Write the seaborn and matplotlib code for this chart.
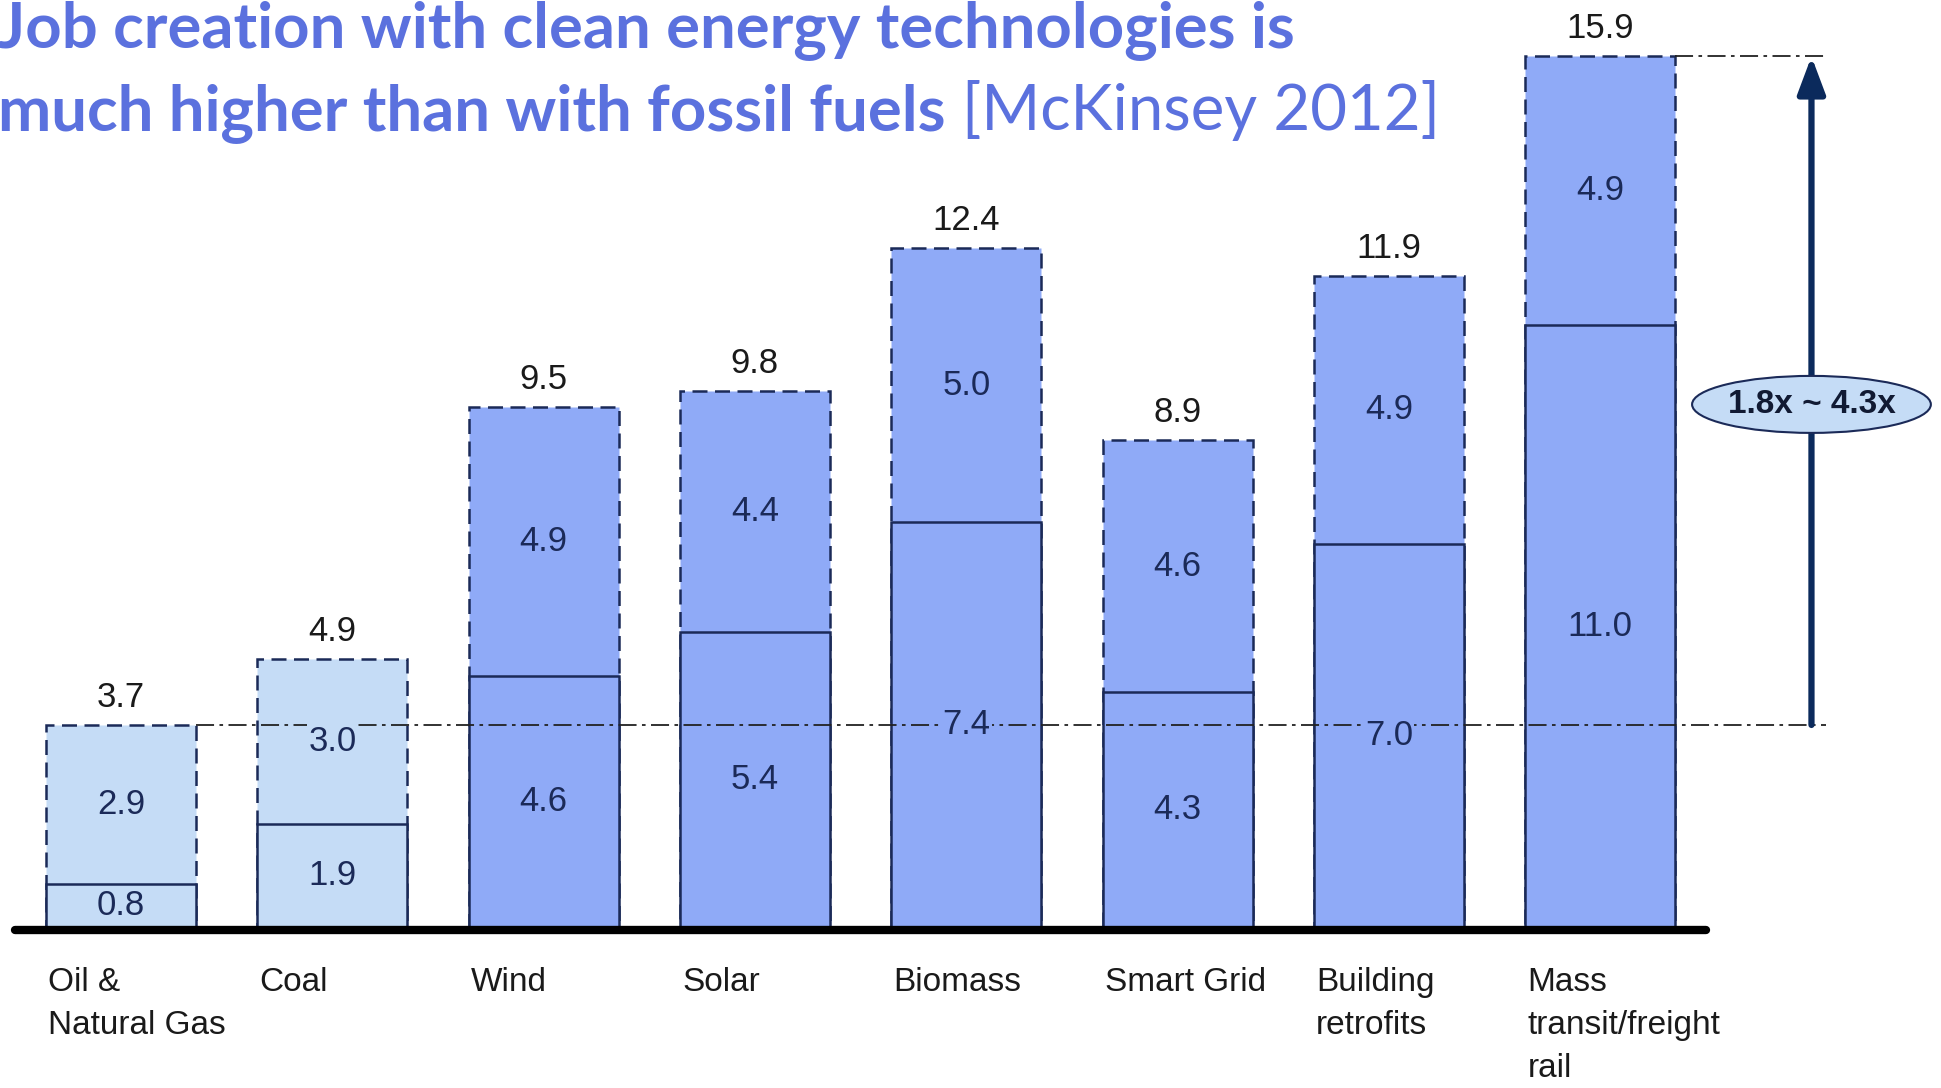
import numpy as np
import pandas as pd
import matplotlib
matplotlib.use("Agg")
from matplotlib import pyplot as plt
from matplotlib.patches import Ellipse
import seaborn as sns

# data (jobs per $1M)
categories = ["Oil &\nNatural Gas", "Coal", "Wind", "Solar", "Biomass",
              "Smart Grid", "Building\nretrofits", "Mass\ntransit/freight\nrail"]
direct = [0.8, 1.9, 4.6, 5.4, 7.4, 4.3, 7.0, 11.0]
indirect = [2.9, 3.0, 4.9, 4.4, 5.0, 4.6, 4.9, 4.9]
totals = [3.7, 4.9, 9.5, 9.8, 12.4, 8.9, 11.9, 15.9]
ratio_text = "1.8x ~ 4.3x"

light = "#c5dcf6"
dark = "#8faaf7"
navy = "#1b2a58"
bar_colors = [light, light] + [dark] * 6

df = pd.DataFrame({"tech": categories, "direct": direct,
                   "total": np.array(direct) + np.array(indirect)})

sns.set_style("white")
plt.rcParams["font.family"] = ["Liberation Sans", "DejaVu Sans"]

fig = plt.figure(figsize=(19.41, 10.88), dpi=100)
ax = fig.add_axes([0, 0, 1, 1])

# full bars with dashed outline, then the direct part on top with a solid one
sns.barplot(data=df, x="tech", y="total", hue="tech", palette=bar_colors,
            saturation=1, width=0.71, edgecolor=navy, linewidth=1.8,
            linestyle=(0, (6, 3)), legend=False, ax=ax)
sns.barplot(data=df, x="tech", y="direct", hue="tech", palette=bar_colors,
            saturation=1, width=0.71, edgecolor=navy, linewidth=1.8,
            legend=False, ax=ax)

# pixel-matched limits
ax.set_xlim(-0.5727, 8.613)
ax.set_ylim(-2.925, 16.93)
ax.set_axis_off()

# baseline
ax.plot([-0.5, 7.5], [-0.05, -0.05], color="black", lw=6, solid_capstyle="round", zorder=5)

# reference lines at the oil & gas level and the mass transit level
ax.plot([0.355, 8.07], [totals[0], totals[0]], color="#222222", lw=1.3,
        linestyle=(0, (10, 3, 2, 3)), zorder=4)
ax.plot([7.355, 8.07], [totals[-1], totals[-1]], color="#222222", lw=1.3,
        linestyle=(0, (10, 3, 2, 3)), zorder=4)

# arrow + ellipse
ax.annotate("", xy=(8.0, totals[-1]), xytext=(8.0, totals[0]),
            arrowprops=dict(arrowstyle="-|>,head_width=0.3,head_length=0.8",
                            color="#0b2a5c", lw=4.5, shrinkA=0, shrinkB=0,
                            mutation_scale=28), zorder=6)
ax.add_patch(Ellipse((8.0, 9.55), width=1.13, height=1.04, facecolor=light,
                     edgecolor=navy, lw=1.5, zorder=7))
ax.text(8.0, 9.55, ratio_text, ha="center", va="center", fontsize=24,
        fontweight="bold", color="#111a33", zorder=8)

# value labels
for i in range(len(categories)):
    c = bar_colors[i]
    ax.text(i, direct[i] / 2, f"{direct[i]:.1f}", ha="center", va="center",
            fontsize=25, color=navy, zorder=6,
            bbox=dict(facecolor=c, edgecolor="none", pad=1))
    ax.text(i, direct[i] + indirect[i] / 2, f"{indirect[i]:.1f}", ha="center",
            va="center", fontsize=25, color=navy, zorder=6,
            bbox=dict(facecolor=c, edgecolor="none", pad=1))
    ax.text(i, totals[i] + 0.2, f"{totals[i]:.1f}", ha="center", va="bottom",
            fontsize=25, color="#1a1a1a", zorder=6)
    ax.text(i - 0.345, -0.72, categories[i], ha="left", va="top", fontsize=24,
            color="#1a1a1a", linespacing=1.5, zorder=6)

# title
title_color = "#5b71de"
fig.text(-0.001, 1 - 47 / 1088, "Job creation with clean energy technologies is",
         fontsize=45.7, fontweight="bold", color=title_color, family="Lato", va="baseline")
t2 = fig.text(-0.001, 1 - 130 / 1088, "much higher than with fossil fuels",
              fontsize=45.7, fontweight="bold", color=title_color, family="Lato", va="baseline")
fig.canvas.draw()
bb = t2.get_window_extent()
fig.text((bb.x1 + 16) / fig.bbox.width, 1 - 130 / 1088, "[McKinsey 2012]",
         fontsize=45.7, color=title_color, family="Lato", va="baseline")

fig.savefig("out.png", dpi=100)
